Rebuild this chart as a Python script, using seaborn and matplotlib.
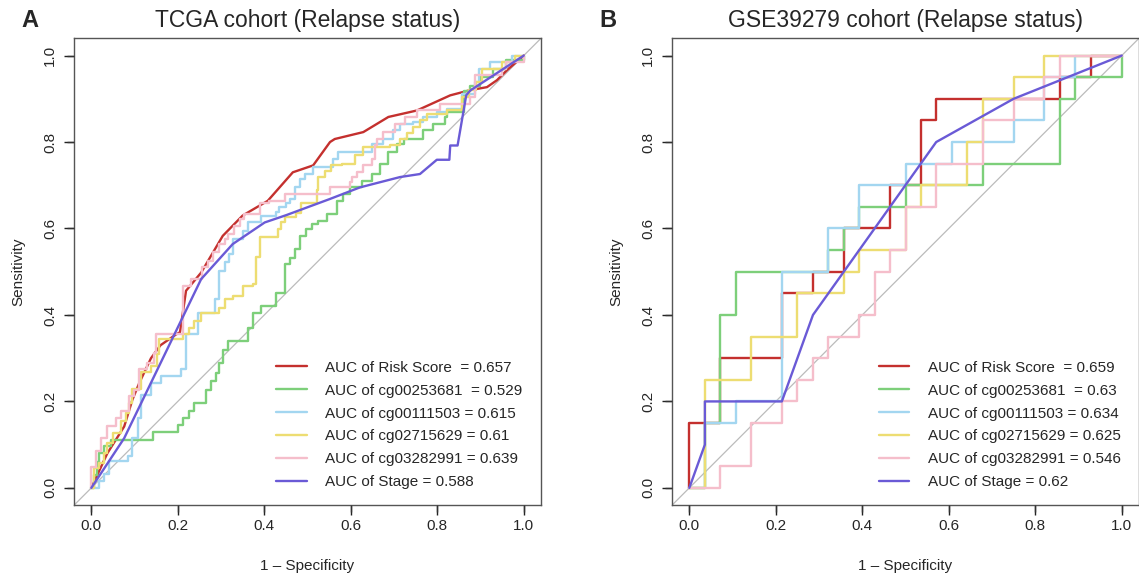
import numpy as np
import pandas as pd
import matplotlib
matplotlib.use("Agg")
import matplotlib.pyplot as plt
import seaborn as sns

# ---------------- TCGA cohort (panel A) ----------------
# step curves: knots (fpr, tpr reached at that fpr)
a_risk_x = [0, 0.037, 0.076, 0.095, 0.111, 0.138, 0.16, 0.196, 0.205, 0.219, 0.254, 0.304, 0.35,
            0.408, 0.466, 0.513, 0.552, 0.563, 0.629, 0.687, 0.753, 0.83, 0.876, 0.915, 0.938, 0.961, 1.0]
a_risk_y = [0, 0.08, 0.142, 0.204, 0.243, 0.30, 0.33, 0.355, 0.36, 0.456, 0.498, 0.583, 0.63,
            0.664, 0.73, 0.746, 0.80, 0.807, 0.823, 0.858, 0.873, 0.908, 0.92, 0.927, 0.943, 0.966, 1.0]

a_cg253_x = [0, 0.006, 0.012, 0.018, 0.029, 0.045, 0.142, 0.2, 0.211, 0.227, 0.238, 0.265, 0.277, 0.289,
             0.296, 0.304, 0.316, 0.362, 0.374, 0.393, 0.428, 0.447, 0.459, 0.47, 0.482, 0.497, 0.51, 0.524,
             0.544, 0.567, 0.582, 0.598, 0.625, 0.648, 0.667, 0.687, 0.706, 0.722, 0.768, 0.791, 0.818,
             0.822, 0.861, 0.876, 0.9, 0.93, 0.96, 1.0]
a_cg253_y = [0, 0.03, 0.06, 0.08, 0.096, 0.111, 0.13, 0.146, 0.162, 0.177, 0.196, 0.227, 0.247, 0.265,
             0.29, 0.32, 0.339, 0.37, 0.405, 0.42, 0.451, 0.517, 0.532, 0.552, 0.583, 0.599, 0.61, 0.618,
             0.633, 0.664, 0.68, 0.695, 0.711, 0.726, 0.749, 0.777, 0.796, 0.807, 0.827, 0.842, 0.857,
             0.869, 0.919, 0.93, 0.95, 0.97, 0.99, 1.0]

a_cg111_x = [0, 0.018, 0.029, 0.041, 0.084, 0.095, 0.107, 0.115, 0.138, 0.161, 0.207, 0.219, 0.246, 0.285,
             0.296, 0.308, 0.319, 0.327, 0.35, 0.362, 0.393, 0.428, 0.435, 0.451, 0.459, 0.47, 0.482, 0.494,
             0.513, 0.559, 0.571, 0.648, 0.675, 0.698, 0.714, 0.745, 0.768, 0.799, 0.822, 0.857, 0.888,
             0.896, 0.922, 0.973, 1.0]
a_cg111_y = [0, 0.016, 0.031, 0.062, 0.073, 0.116, 0.162, 0.216, 0.243, 0.258, 0.274, 0.355, 0.405, 0.436,
             0.502, 0.522, 0.541, 0.576, 0.595, 0.615, 0.629, 0.638, 0.649, 0.66, 0.668, 0.695, 0.715, 0.725,
             0.742, 0.761, 0.776, 0.796, 0.807, 0.827, 0.842, 0.846, 0.858, 0.869, 0.877, 0.912, 0.939,
             0.97, 0.985, 1.0, 1.0]

a_cg027_x = [0, 0.006, 0.018, 0.03, 0.037, 0.049, 0.068, 0.08, 0.087, 0.095, 0.115, 0.138, 0.153, 0.157,
             0.211, 0.225, 0.238, 0.254, 0.296, 0.308, 0.327, 0.35, 0.373, 0.381, 0.389, 0.432, 0.439, 0.447,
             0.474, 0.486, 0.521, 0.525, 0.54, 0.555, 0.579, 0.61, 0.629, 0.691, 0.714, 0.73, 0.745, 0.76,
             0.776, 0.822, 0.857, 0.873, 0.89, 0.903, 0.949, 0.98, 1.0]
a_cg027_y = [0, 0.046, 0.058, 0.08, 0.104, 0.128, 0.155, 0.174, 0.197, 0.228, 0.267, 0.282, 0.309, 0.344,
             0.355, 0.37, 0.386, 0.405, 0.417, 0.436, 0.444, 0.467, 0.471, 0.533, 0.58, 0.599, 0.614, 0.626,
             0.637, 0.66, 0.688, 0.719, 0.734, 0.746, 0.749, 0.769, 0.788, 0.792, 0.807, 0.82, 0.834, 0.85,
             0.866, 0.873, 0.904, 0.92, 0.94, 0.97, 0.985, 1.0, 1.0]

a_cg032_x = [0, 0, 0.01, 0.022, 0.037, 0.056, 0.068, 0.087, 0.099, 0.111, 0.128, 0.145, 0.149, 0.211,
             0.23, 0.257, 0.27, 0.281, 0.296, 0.308, 0.316, 0.33, 0.343, 0.354, 0.389, 0.412, 0.447, 0.551,
             0.598, 0.602, 0.615, 0.629, 0.648, 0.656, 0.66, 0.675, 0.702, 0.726, 0.753, 0.807, 0.876,
             0.888, 0.95, 0.96, 1.0]
a_cg032_y = [0, 0.049, 0.085, 0.115, 0.142, 0.162, 0.177, 0.212, 0.227, 0.274, 0.29, 0.312, 0.355, 0.467,
             0.483, 0.51, 0.525, 0.545, 0.564, 0.576, 0.587, 0.605, 0.622, 0.633, 0.66, 0.664, 0.68, 0.695,
             0.707, 0.719, 0.73, 0.746, 0.761, 0.792, 0.807, 0.823, 0.842, 0.857, 0.873, 0.889, 0.904,
             0.954, 0.97, 0.985, 1.0]

a_stage_x = [0, 0.076, 0.254, 0.327, 0.401, 0.451, 0.551, 0.621, 0.714, 0.76, 0.799, 0.828, 0.83, 0.847,
             0.867, 0.876, 1.0]
a_stage_y = [0, 0.115, 0.483, 0.564, 0.614, 0.631, 0.668, 0.695, 0.719, 0.726, 0.759, 0.759, 0.792, 0.792,
             0.908, 0.919, 1.0]

a_labels = ["AUC of Risk Score  = 0.657", "AUC of cg00253681  = 0.529", "AUC of cg00111503 = 0.615",
            "AUC of cg02715629 = 0.61", "AUC of cg03282991 = 0.639", "AUC of Stage = 0.588"]

# ---------------- GSE39279 cohort (panel B) ----------------
b_risk_x = [0, 0, 0.071, 0.214, 0.286, 0.357, 0.464, 0.536, 0.571, 0.857, 0.929, 1.0]
b_risk_y = [0, 0.15, 0.30, 0.45, 0.50, 0.60, 0.70, 0.85, 0.90, 0.95, 1.0, 1.0]

b_cg253_x = [0, 0.036, 0.071, 0.107, 0.321, 0.357, 0.393, 0.5, 0.679, 0.857, 0.893, 1.0, 1.0]
b_cg253_y = [0, 0.15, 0.40, 0.50, 0.55, 0.60, 0.65, 0.70, 0.75, 0.90, 0.95, 0.95, 1.0]

b_cg111_x = [0, 0.036, 0.107, 0.214, 0.321, 0.393, 0.5, 0.607, 0.75, 0.821, 0.893, 1.0]
b_cg111_y = [0, 0.15, 0.20, 0.50, 0.60, 0.70, 0.75, 0.80, 0.85, 0.95, 1.0, 1.0]

b_cg027_x = [0, 0.036, 0.143, 0.25, 0.357, 0.393, 0.5, 0.536, 0.643, 0.679, 0.75, 0.821, 1.0]
b_cg027_y = [0, 0.25, 0.35, 0.45, 0.50, 0.55, 0.65, 0.70, 0.80, 0.90, 0.95, 1.0, 1.0]

b_cg032_x = [0, 0.071, 0.143, 0.214, 0.25, 0.286, 0.321, 0.393, 0.429, 0.464, 0.5, 0.571, 0.679,
             0.75, 0.821, 0.857, 1.0]
b_cg032_y = [0, 0.05, 0.15, 0.20, 0.25, 0.30, 0.35, 0.40, 0.50, 0.55, 0.65, 0.75, 0.85,
             0.90, 0.95, 1.0, 1.0]

b_stage_x = [0, 0.036, 0.036, 0.214, 0.286, 0.571, 0.75, 1.0]
b_stage_y = [0, 0.10, 0.20, 0.20, 0.40, 0.80, 0.90, 1.0]

b_labels = ["AUC of Risk Score  = 0.659", "AUC of cg00253681  = 0.63", "AUC of cg00111503 = 0.634",
            "AUC of cg02715629 = 0.625", "AUC of cg03282991 = 0.546", "AUC of Stage = 0.62"]

colors = ["#C4302E", "#7DCF7A", "#A3D6F0", "#EDDD72", "#F5BECB", "#6A5AD6"]
tick_vals = [0.0, 0.2, 0.4, 0.6, 0.8, 1.0]

sns.set_theme(style="ticks")
plt.rcParams['font.family'] = ['Liberation Sans', 'DejaVu Sans']

fig = plt.figure(figsize=(11.39, 5.80), dpi=100)
ax_a = fig.add_axes([0.065, 0.129, 0.410, 0.805])
ax_b = fig.add_axes([0.590, 0.129, 0.410, 0.805])


def draw_panel(ax, curves, labels, title):
    ax.axline((0, 0), (1, 1), color="#BBBBBB", lw=0.9, zorder=1)
    for (x, y, step), lab, col in zip(curves, labels, colors):
        df = pd.DataFrame({"fpr": x, "tpr": y})
        sns.lineplot(data=df, x="fpr", y="tpr", estimator=None, sort=False, ax=ax,
                     color=col, lw=1.7, label=lab,
                     drawstyle="steps-post" if step else "default")
    ax.set_xlim(-0.04, 1.04)
    ax.set_ylim(-0.04, 1.04)
    ax.set_xticks(tick_vals)
    ax.set_yticks(tick_vals)
    ax.set_xticklabels([f"{t:.1f}" for t in tick_vals], fontsize=11)
    ax.set_yticklabels([f"{t:.1f}" for t in tick_vals], fontsize=11, rotation=90, va="center")
    ax.tick_params(direction="out", length=7, width=1.0, color="#222222")
    ax.tick_params(axis="x", pad=3)
    ax.tick_params(axis="y", pad=5)
    for s in ax.spines.values():
        s.set_color("#555555")
        s.set_linewidth(1.0)
    ax.set_xlabel("1 \u2013 Specificity", fontsize=11, labelpad=19)
    ax.set_ylabel("Sensitivity", fontsize=11, labelpad=13)
    ax.set_title(title, fontsize=16.5, pad=8)
    handles, labs = ax.get_legend_handles_labels()
    ax.legend(handles[:6], labs[:6], loc="lower right", bbox_to_anchor=(0.99, 0.005), frameon=False,
              fontsize=11, handlelength=2.0, handletextpad=1.2, labelspacing=0.58)


draw_panel(ax_a, [(a_risk_x, a_risk_y, False), (a_cg253_x, a_cg253_y, True),
                  (a_cg111_x, a_cg111_y, True), (a_cg027_x, a_cg027_y, True),
                  (a_cg032_x, a_cg032_y, True), (a_stage_x, a_stage_y, False)],
           a_labels, "TCGA cohort (Relapse status)")
draw_panel(ax_b, [(b_risk_x, b_risk_y, True), (b_cg253_x, b_cg253_y, True),
                  (b_cg111_x, b_cg111_y, True), (b_cg027_x, b_cg027_y, True),
                  (b_cg032_x, b_cg032_y, True), (b_stage_x, b_stage_y, False)],
           b_labels, "GSE39279 cohort (Relapse status)")

# overlay on top of everything: R-style outward tick marks on bottom and left axes
over = fig.add_axes([0, 0, 1, 1], zorder=20)
over.set_xlim(0, 1)
over.set_ylim(0, 1)
over.set_axis_off()
over.patch.set_visible(False)
to_fig = fig.transFigure.inverted()
tick_len_x = 7 / 580
tick_len_y = 7 / 1139
for ax in (ax_a, ax_b):
    for t in tick_vals:
        fx, fy = to_fig.transform(ax.transData.transform((t, -0.04)))
        over.plot([fx, fx], [fy, fy - tick_len_x], color="#333333", lw=1.0, solid_capstyle="butt")
        gx, gy = to_fig.transform(ax.transData.transform((-0.04, t)))
        over.plot([gx, gx - tick_len_y], [gy, gy], color="#333333", lw=1.0, solid_capstyle="butt")

fig.text(0.026, 0.965, "A", fontsize=17, fontweight="bold", ha="center", va="center")
fig.text(0.534, 0.965, "B", fontsize=17, fontweight="bold", ha="center", va="center")

fig.savefig("out.png", dpi=100)
